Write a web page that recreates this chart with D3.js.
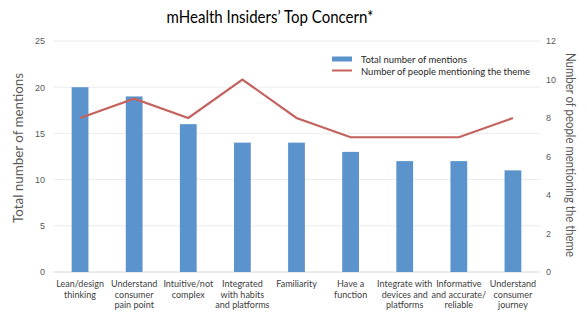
<!DOCTYPE html>
<html><head><meta charset="utf-8">
<script src="https://cdn.jsdelivr.net/npm/d3@7"></script>
<style>body{margin:0;background:#fff;} svg{display:block;font-family:Lato, "Open Sans", sans-serif;}</style>
</head><body>
<svg id="chart" width="587" height="323"></svg>
<script>
const categories = [
  ["Lean/design","thinking"],
  ["Understand","consumer","pain point"],
  ["Intuitive/not","complex"],
  ["Integrated","with habits","and platforms"],
  ["Familiarity"],
  ["Have a","function"],
  ["Integrate with","devices and","platforms"],
  ["Informative","and accurate/","reliable"],
  ["Understand","consumer","journey"]
];
const totalMentions = [20, 19, 16, 14, 14, 13, 12, 12, 11];
const peopleMentioning = [8, 9, 8, 10, 8, 7, 7, 7, 8];
const leftTicks = [0, 5, 10, 15, 20, 25];
const rightTicks = [0, 2, 4, 6, 8, 10, 12];

const svg = d3.select("#chart");
const m = {l:53, r:540, t:41, b:272};
const idx = categories.map((d,i)=>i);
const x = d3.scaleBand().domain(idx).range([m.l, m.r]).paddingInner(0.69).paddingOuter(0.345);
const yL = d3.scaleLinear().domain([0,25]).range([m.b, m.t]);
const yR = d3.scaleLinear().domain([0,12]).range([m.b, m.t]);

// gridlines
svg.append("g").selectAll("line").data(leftTicks).join("line")
  .attr("x1", m.l).attr("x2", m.r)
  .attr("y1", d=>yL(d)).attr("y2", d=>yL(d))
  .attr("stroke", d=> d===0 ? "#d9d9d9" : "#ececec").attr("stroke-width",1);

// left axis
const axL = d3.axisLeft(yL).tickValues(leftTicks).tickSize(0).tickPadding(8);
const gL = svg.append("g").attr("transform",`translate(${m.l},0)`).call(axL);
gL.select(".domain").remove();
gL.selectAll("text").attr("fill","#595959").style("font-size","9px");

const axR = d3.axisRight(yR).tickValues(rightTicks).tickSize(0).tickPadding(6);
const gR = svg.append("g").attr("transform",`translate(${m.r},0)`).call(axR);
gR.select(".domain").remove();
gR.selectAll("text").attr("fill","#595959").style("font-size","9px");

// bars
svg.append("g").selectAll("rect").data(totalMentions).join("rect")
  .attr("x",(d,i)=>x(i)).attr("width",x.bandwidth())
  .attr("y",d=>yL(d)).attr("height",d=>yL(0)-yL(d))
  .attr("fill","#5b93cc");

// line
const line = d3.line().x((d,i)=>x(i)+x.bandwidth()/2).y(d=>yR(d));
svg.append("path").datum(peopleMentioning).attr("d",line)
  .attr("fill","none").attr("stroke","#c4625d").attr("stroke-width",2.2);

// category labels
const cl = svg.append("g").selectAll("text").data(categories).join("text")
  .attr("text-anchor","middle").attr("fill","#404040").style("font-size","9px")
  .attr("transform",(d,i)=>`translate(${x(i)+x.bandwidth()/2},${m.b+15})`);
cl.selectAll("tspan").data(d=>d).join("tspan")
  .attr("x",0).attr("dy",(d,j)=>j===0?0:"1.18em").text(d=>d);

// title
svg.append("text").attr("x",270).attr("y",23).attr("text-anchor","middle")
  .attr("fill","#000").style("font-size","16.5px")
  .attr("textLength",207).attr("lengthAdjust","spacingAndGlyphs")
  .text("mHealth Insiders’ Top Concern*");

// axis titles
svg.append("text").attr("transform",`translate(23,148) rotate(-90)`)
  .attr("text-anchor","middle").attr("fill","#595959").style("font-size","14px")
  .attr("textLength",150).attr("lengthAdjust","spacingAndGlyphs")
  .text("Total number of mentions");
svg.append("text").attr("transform",`translate(566,155) rotate(90)`)
  .attr("text-anchor","middle").attr("fill","#595959").style("font-size","12.5px")
  .attr("textLength",204).attr("lengthAdjust","spacingAndGlyphs")
  .text("Number of people mentioning the theme");

// legend
const lg = svg.append("g");
lg.append("rect").attr("x",332).attr("y",56.5).attr("width",20).attr("height",5).attr("fill","#5b93cc");
lg.append("text").attr("x",361).attr("y",63).attr("fill","#262626").style("font-size","9.5px")
  .attr("textLength",106).attr("lengthAdjust","spacingAndGlyphs").text("Total number of mentions");
lg.append("line").attr("x1",332).attr("x2",352).attr("y1",70.5).attr("y2",70.5).attr("stroke","#c4625d").attr("stroke-width",2);
lg.append("text").attr("x",361).attr("y",75).attr("fill","#262626").style("font-size","9.5px")
  .attr("textLength",169).attr("lengthAdjust","spacingAndGlyphs").text("Number of people mentioning the theme");
</script>
</body></html>
